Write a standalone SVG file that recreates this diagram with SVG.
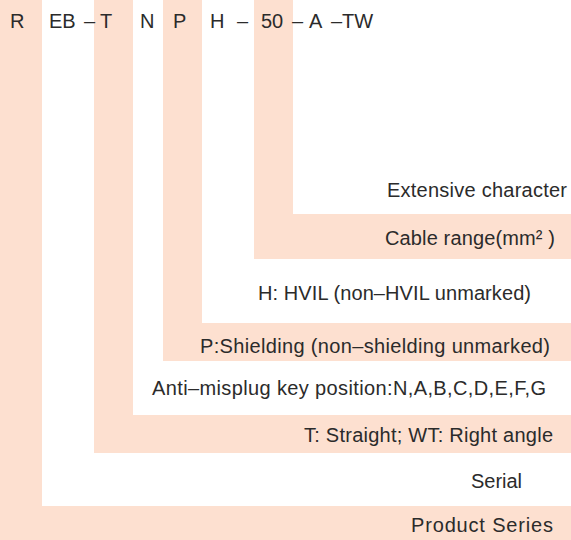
<svg xmlns="http://www.w3.org/2000/svg" width="571" height="540" viewBox="0 0 571 540">
<style>
.pe{fill:#FDE0D0}
.wh{fill:#FFFFFF}
.code{font-family:"Liberation Sans",Arial,sans-serif;font-size:20px;fill:#2B2B2B}
.lbl{font-family:"Liberation Sans",Arial,sans-serif;font-size:20px;fill:#2B2B2B;text-anchor:end}
</style>
<g id="bands">
<rect class="pe" x="0" y="0" width="571" height="540"/>
<rect class="wh" x="42" y="0" width="529" height="506"/>
<rect class="pe" x="94" y="0" width="477" height="453"/>
<rect class="wh" x="133" y="0" width="438" height="415"/>
<rect class="pe" x="163" y="0" width="408" height="361"/>
<rect class="wh" x="202" y="0" width="369" height="323"/>
<rect class="pe" x="254" y="0" width="317" height="259"/>
<rect class="wh" x="293" y="0" width="278" height="214"/>
</g>
<g id="code">
<text class="code" x="10" y="28">R</text>
<text class="code" x="49" y="28">EB</text>
<text class="code" x="84" y="28">–</text>
<text class="code" x="100" y="28">T</text>
<text class="code" x="140" y="28">N</text>
<text class="code" x="173" y="28">P</text>
<text class="code" x="210" y="28">H</text>
<text class="code" x="237" y="28">–</text>
<text class="code" x="261" y="28">50</text>
<text class="code" x="292" y="28">–</text>
<text class="code" x="309" y="28">A</text>
<text class="code" x="331" y="28">–</text>
<text class="code" x="342" y="28">TW</text>
</g>
<g id="labels">
<text class="lbl" x="567" y="197" textLength="180" lengthAdjust="spacing">Extensive character</text>
<text class="lbl" x="555" y="245" textLength="170" lengthAdjust="spacing">Cable range(mm² )</text>
<text class="lbl" x="531" y="300" textLength="273" lengthAdjust="spacing">H: HVIL (non–HVIL unmarked)</text>
<text class="lbl" x="550" y="353" textLength="350" lengthAdjust="spacing">P:Shielding (non–shielding unmarked)</text>
<text class="lbl" x="546" y="395" textLength="394" lengthAdjust="spacing">Anti–misplug key position:N,A,B,C,D,E,F,G</text>
<text class="lbl" x="553" y="442" textLength="249" lengthAdjust="spacing">T: Straight; WT: Right angle</text>
<text class="lbl" x="522" y="488" textLength="51" lengthAdjust="spacing">Serial</text>
<text class="lbl" x="553" y="532" textLength="142" lengthAdjust="spacing">Product Series</text>
</g>
</svg>
